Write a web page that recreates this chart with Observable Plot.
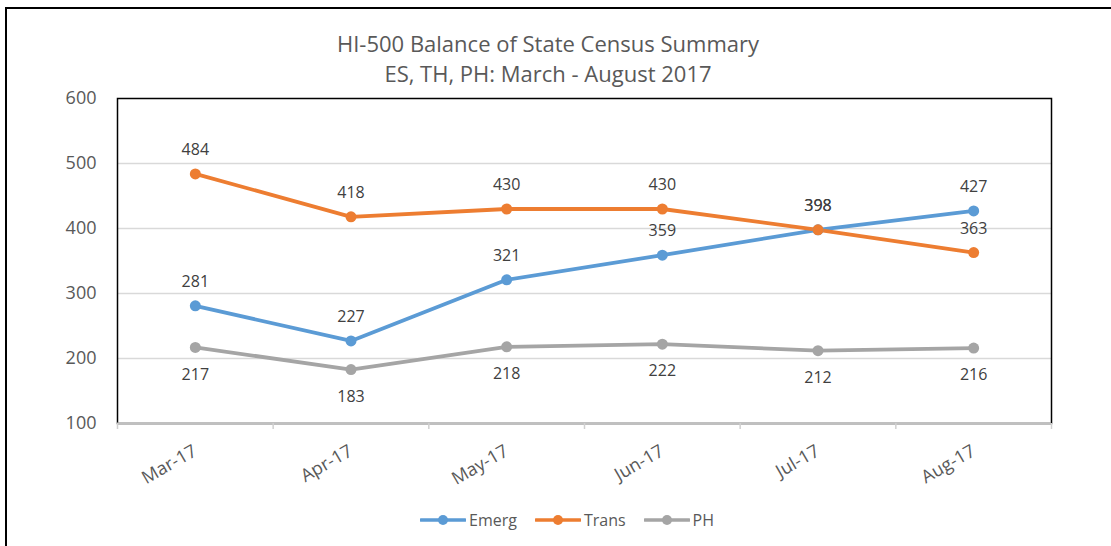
<!DOCTYPE html>
<html><head><meta charset="utf-8">
<script src="https://cdn.jsdelivr.net/npm/d3@7"></script>
<script src="https://cdn.jsdelivr.net/npm/@observablehq/plot@0.6"></script>
<style>
body{margin:0;width:1111px;height:546px;overflow:hidden;position:relative;background:#fff;font-family:"Open Sans",sans-serif;}
#border{position:absolute;left:5px;top:7px;width:1200px;height:700px;border:2px solid #000;box-sizing:border-box;pointer-events:none;}
#title{position:relative;width:1096px;text-align:center;padding-top:28px;font-size:22px;line-height:30px;color:#595959;height:50px;}
#chart{position:relative;height:432px;}
#legend{position:absolute;top:505px;left:0;width:1134px;height:30px;display:flex;justify-content:center;align-items:center;font-size:16px;color:#595959;}
.item{display:flex;align-items:center;margin:0 9px;}
.item svg{margin-right:3px;}
</style></head>
<body>
<div id="border"></div>
<div id="title">HI-500 Balance of State Census Summary<br>ES, TH, PH: March - August 2017</div>
<div id="chart"></div>
<div id="legend"></div>
<script>
const months = ["Mar-17", "Apr-17", "May-17", "Jun-17", "Jul-17", "Aug-17"];
const seriesNames = ["Emerg", "Trans", "PH"];
const seriesColors = ["#5B9BD5", "#ED7D31", "#A5A5A5"];
const emerg = [281, 227, 321, 359, 398, 427];
const trans = [484, 418, 430, 430, 398, 363];
const ph = [217, 183, 218, 222, 212, 216];
const yTicks = [100, 200, 300, 400, 500, 600];

const seriesValues = [emerg, trans, ph];
const rows = seriesNames.flatMap((s, k) =>
  months.map((m, i) => ({series: s, month: m, pos: i + 0.5, value: seriesValues[k][i]})));
const boundaries = d3.range(months.length + 1);
const centers = months.map((m, i) => i + 0.5);

const chart = Plot.plot({
  width: 1111, height: 432,
  marginLeft: 117, marginRight: 60, marginTop: 20, marginBottom: 87,
  style: {fontFamily: "Open Sans", fontSize: "18px", color: "#595959", background: "transparent", overflow: "visible"},
  x: {type: "linear", domain: [0, months.length], axis: null},
  y: {domain: [100, 600], axis: null},
  color: {domain: seriesNames, range: seriesColors},
  marks: [
    Plot.gridY(yTicks.slice(1, -1), {stroke: "#d9d9d9", strokeOpacity: 1, strokeWidth: 1.3}),
    Plot.frame({stroke: "#000", strokeWidth: 1.5}),
    Plot.ruleY([100], {stroke: "#c0c0c0", strokeWidth: 2}),
    Plot.axisX(boundaries, {tickSize: 6, tickFormat: () => "", label: null, stroke: "#d0d0d0", strokeWidth: 1.5}),
    Plot.axisX(centers, {tickSize: 0, tickPadding: 26, tickRotate: -30, textAnchor: "end", label: null,
      tickFormat: d => months[Math.round(d - 0.5)], fontSize: 18, fill: "#595959"}),
    Plot.axisY(yTicks, {tickSize: 0, tickPadding: 21, fontSize: 18, fill: "#595959", label: null}),
    Plot.line(rows, {x: "pos", y: "value", z: "series", stroke: "series", strokeWidth: 3.8}),
    Plot.dot(rows, {x: "pos", y: "value", fill: "series", r: 5.5}),
    Plot.text(rows.filter(d => d.series !== "PH"), {x: "pos", y: "value", text: d => String(d.value), dy: -24, fontSize: 16, fill: "#404040"}),
    Plot.text(rows.filter(d => d.series === "PH"), {x: "pos", y: "value", text: d => String(d.value), dy: 27, fontSize: 16, fill: "#404040"})
  ]
});
document.getElementById("chart").appendChild(chart);

const legend = d3.select("#legend");
seriesNames.forEach((s, k) => {
  const item = legend.append("div").attr("class", "item");
  const svg = item.append("svg").attr("width", 46).attr("height", 14);
  svg.append("line").attr("x1", 1).attr("x2", 45).attr("y1", 7).attr("y2", 7)
    .attr("stroke", seriesColors[k]).attr("stroke-width", 3.5).attr("stroke-linecap", "round");
  svg.append("circle").attr("cx", 23).attr("cy", 7).attr("r", 5).attr("fill", seriesColors[k]);
  item.append("span").text(s);
});
</script>
</body></html>
